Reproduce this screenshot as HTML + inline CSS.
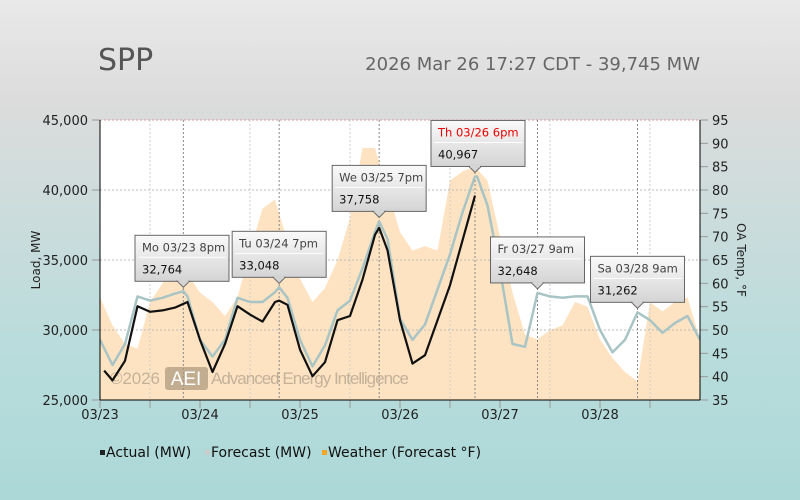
<!DOCTYPE html>
<html><head><meta charset="utf-8">
<style>
body{margin:0;width:800px;height:500px;overflow:hidden;font-family:"Liberation Sans","DejaVu Sans",sans-serif;}
#bg{position:absolute;left:0;top:0;width:800px;height:500px;background:linear-gradient(#e9e9e9 0%,#dcdcdc 20%,#b9dcdc 70%,#acd8d8 100%);}
svg{position:absolute;left:0;top:0}
</style></head>
<body>
<div id="bg"></div>
<svg id="chart" width="800" height="500" font-family="DejaVu Sans, Liberation Sans, sans-serif">
<text x="98" y="70" font-size="30" fill="#555">SPP</text>
<text x="700" y="70" font-size="18" fill="#666" text-anchor="end">2026 Mar 26 17:27 CDT - 39,745 MW</text>
<g id="plot"></g>
</svg>
<script>
// hours from 03/23 00:00, 3-hour steps
const forecastHours=[0,3,6,9,12,15,18,20,21,24,27,30,33,36,39,42,43,45,48,51,54,57,60,63,66,67,69,72,75,78,81,84,87,90,90.5,93,96,99,102,105,108,111,114,117,120,123,126,129,132,135,138,141,144];
const forecastMW=[29300,27500,29000,32400,32100,32300,32600,32764,32400,29300,28100,29300,32300,32000,32000,32700,33048,32300,29300,27400,28900,31400,32100,34400,37000,37758,36500,30800,29300,30400,32900,35400,38400,40967,40967,38900,34300,29000,28800,32648,32400,32300,32400,32400,30000,28400,29300,31262,30700,29800,30500,31000,29300];
const actualHours=[1,3,6,9,12,15,18,21,24,27,30,33,36,39,42,43,45,48,51,54,57,60,63,66,67,69,72,75,78,81,84,87,90];
const actualMW=[27100,26400,27800,31700,31300,31400,31600,32000,29300,27000,29000,31700,31100,30600,32000,32100,31800,28600,26700,27700,30700,31000,33600,36800,37300,35700,30700,27600,28200,30700,33200,36400,39600];
const weatherHours=[0,3,6,9,12,15,18,21,24,27,30,33,36,39,42,45,48,51,54,57,60,63,66,69,72,75,78,81,84,87,90,93,96,99,102,105,108,111,114,117,120,123,126,129,132,135,138,141,144];
const weatherF=[57,51,47,46,56,60,63,62,58,56,53,57,67,76,78,69,61,56,59,65,74,89,89,80,71,67,68,67,82,84,85,82,70,58,49,48,50,51,56,55,48,44,41,39,56,54,56,57,48];
const yTicks=[25000,30000,35000,40000,45000];
const tempTicks=[35,40,45,50,55,60,65,70,75,80,85,90,95];
const dayLabels=['03/23','03/24','03/25','03/26','03/27','03/28'];
const tipHours=[20,43,67,90,105,129];
const tipTitles=['Mo 03/23 8pm','Tu 03/24 7pm','We 03/25 7pm','Th 03/26 6pm','Fr 03/27 9am','Sa 03/28 9am'];
const tipValues=['32,764','33,048','37,758','40,967','32,648','31,262'];
const tipMW=[32764,33048,37758,40967,32648,31262];

const L=100,R=700,T=120,B=400;
const x=h=>L+h*(R-L)/144;
const y=v=>B-(v-25000)*(B-T)/20000;
const yt=t=>B-(t-35)*(B-T)/60;
const NS='http://www.w3.org/2000/svg';
const g=document.getElementById('plot');
function mk(tag,attrs,parent){const e=document.createElementNS(NS,tag);for(const k in attrs)e.setAttribute(k,attrs[k]);(parent||g).appendChild(e);return e;}

let e=mk('rect',{x:L,y:T,width:R-L,height:B-T,fill:'#fff'});


let pts=weatherHours.map((h,i)=>x(h)+','+yt(weatherF[i])).join(' ');
e=mk('polygon',{points:x(0)+','+B+' '+pts+' '+x(144)+','+B,fill:'#fde3c2'});


yTicks.forEach((v,i)=>{
 e=mk('line',{x1:L,x2:R,y1:y(v),y2:y(v),stroke:i==4?'#d99':'#bbb','stroke-dasharray':'2,2'});
 
 
 e=mk('text',{x:L-12,y:y(v)+5,'text-anchor':'end','font-size':13,fill:'#222'});e.textContent=v.toLocaleString('en-US');
 
 
 mk('line',{x1:L-8,x2:L,y1:y(v),y2:y(v),stroke:'#999'});
});
for(let d=0;d<6;d++){
 e=mk('line',{x1:x(d*24+12),x2:x(d*24+12),y1:T,y2:B,stroke:'#ccc','stroke-dasharray':'2,2'});
 
 
 mk('line',{x1:x(d*24),x2:x(d*24),y1:B,y2:B+8,stroke:'#999'});
 mk('line',{x1:x(d*24+12),x2:x(d*24+12),y1:B,y2:B+8,stroke:'#999'});
 e=mk('text',{x:x(d*24),y:B+19,'text-anchor':'middle','font-size':13,fill:'#222'});e.textContent=dayLabels[d];
 
 
}
tempTicks.forEach(t=>{
 mk('line',{x1:R,x2:R+8,y1:yt(t),y2:yt(t),stroke:'#999'});
 e=mk('text',{x:R+12,y:yt(t)+5,'font-size':13,fill:'#222'});e.textContent=t;
 
 
});
tipHours.forEach(h=>{
 e=mk('line',{x1:x(h),x2:x(h),y1:T,y2:B,stroke:'#888','stroke-dasharray':'2,2'});
 
 
});
e=mk('text',{x:110,y:384,'font-size':17,fill:'#b6a58f',opacity:0.8,textLength:50,'font-family':'Liberation Sans, sans-serif'});e.textContent='©2026';


mk('rect',{x:165,y:367,width:43,height:23,rx:3,fill:'#a8957b',opacity:0.7});
e=mk('text',{x:186,y:385,'font-size':19,fill:'#fff','text-anchor':'middle','font-family':'Liberation Sans, sans-serif'});e.textContent='AEI';


e=mk('text',{x:211,y:384,'font-size':17,fill:'#b6a58f',opacity:0.8,textLength:198,'font-family':'Liberation Sans, sans-serif'});e.textContent='Advanced Energy Intelligence';


e=mk('polyline',{points:forecastHours.map((h,i)=>x(h)+','+y(forecastMW[i])).join(' '),fill:'none',stroke:'#a9c4c4','stroke-width':2.5,'stroke-linejoin':'round'});


e=mk('polyline',{points:actualHours.map((h,i)=>x(h)+','+y(actualMW[i])).join(' '),fill:'none',stroke:'#111','stroke-width':2.2,'stroke-linejoin':'round'});


mk('line',{x1:L,x2:L,y1:T,y2:B,stroke:'#000'});
mk('line',{x1:R,x2:R,y1:T,y2:B,stroke:'#000'});
mk('line',{x1:L,x2:R,y1:B,y2:B,stroke:'#000'});
e=mk('text',{x:0,y:0,'font-size':12,fill:'#222','text-anchor':'middle',transform:'translate(40,260) rotate(-90)'});e.textContent='Load, MW';


e=mk('text',{x:0,y:0,'font-size':12,fill:'#222','text-anchor':'middle',transform:'translate(737,260) rotate(90)'});e.textContent='OA Temp, °F';


const defs=mk('defs',{});
const lg=mk('linearGradient',{id:'tg',x1:0,y1:0,x2:0,y2:1},defs);
mk('stop',{offset:'0','stop-color':'#fafafa'},lg);mk('stop',{offset:'1','stop-color':'#d4d4d4'},lg);
tipHours.forEach((h,i)=>{
 const px=x(h),py=y(tipMW[i])-4,w=94,hh=46;
 let bx=Math.min(Math.max(px-w/2,L+2),R-w-12);
 if(i==0)bx=135;
 if(i==3)bx=431;
 const by=Math.max(py-hh-6,T);
 const tg=mk('g',{});
 
 
 mk('rect',{x:bx,y:by,width:w,height:hh,fill:'url(#tg)',stroke:'#666'},tg);
 mk('polygon',{points:(px-6)+','+(by+hh)+' '+(px+6)+','+(by+hh)+' '+px+','+(by+hh+6),fill:'#d4d4d4',stroke:'#666'},tg);
 mk('line',{x1:px-5,x2:px+5,y1:by+hh,y2:by+hh,stroke:'#d4d4d4','stroke-width':2},tg);
 mk('line',{x1:bx+3,x2:bx+w-3,y1:by+22,y2:by+22,stroke:'#fff'},tg);
 let t=mk('text',{x:bx+7,y:by+16,'font-size':11.5,fill:i==3?'#e00':'#444'},tg);t.textContent=tipTitles[i];
 t=mk('text',{x:bx+7,y:by+38,'font-size':11.5,fill:'#111'},tg);t.textContent=tipValues[i];
});
const leg=[['#222','Actual (MW)',100],['#ccc','Forecast (MW)',205],['#f5a623','Weather (Forecast °F)',322]];
leg.forEach(l=>{
 const lgG=mk('g',{});
 
 
 mk('rect',{x:l[2],y:450,width:5,height:5,fill:l[0]},lgG);
 const t=mk('text',{x:l[2]+6,y:457,'font-size':14,fill:'#111'},lgG);t.textContent=l[1];
});
</script>
</body></html>
